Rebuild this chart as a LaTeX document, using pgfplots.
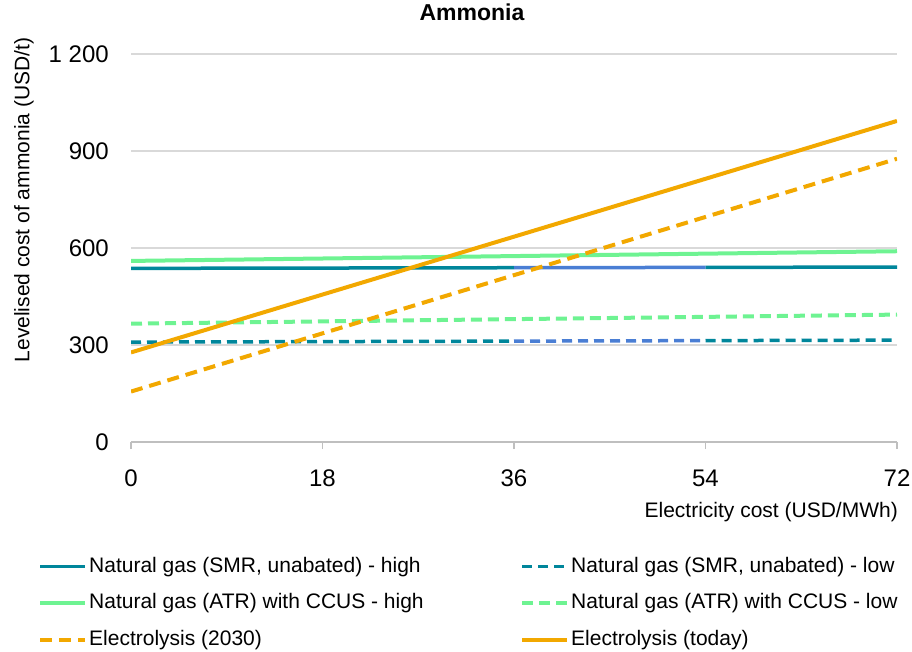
\documentclass[border=0pt]{standalone}
\usepackage{fontspec}
\setmainfont{Liberation Sans}
\usepackage{pgfplots}
\pgfplotsset{compat=1.18}
\definecolor{smrteal}{RGB}{0,134,155}
\definecolor{smrblue}{RGB}{74,126,212}
\definecolor{atrgreen}{RGB}{110,243,146}
\definecolor{elorange}{RGB}{242,168,0}
\definecolor{gridgray}{RGB}{217,217,217}
\definecolor{axisgray}{RGB}{191,191,191}
\begin{document}
\begin{tikzpicture}
\path[use as bounding box] (0,0) rectangle (912bp,652bp);
\begin{axis}[
  at={(131bp,210bp)}, anchor=south west,
  scale only axis, width=766bp, height=388bp,
  xmin=0, xmax=72, ymin=0, ymax=1200,
  xtick={0,18,36,54,72},
  ytick={0,300,600,900,1200},
  yticklabels={0,300,600,900,1 200},
  axis x line*=bottom, axis y line*=left,
  y axis line style={draw=none},
  ytick style={draw=none},
  x axis line style={draw=axisgray, line width=1.5bp, -},
  xtick style={draw=axisgray, line width=1.2bp},
  tick align=outside, major tick length=7bp,
  ymajorgrids, grid style={draw=gridgray, line width=1.5bp},
  /pgf/number format/assume math mode=true,
  tick label style={font=\fontsize{24bp}{28bp}\selectfont, inner sep=0pt},
  xticklabel style={anchor=north, yshift=-21bp},
  yticklabel style={anchor=east, xshift=-15bp},
  title={Ammonia},
  title style={font=\bfseries\fontsize{23bp}{27bp}\selectfont, at={(axis description cs:0.4452,1.0928)}, anchor=center, inner sep=0pt},
  xlabel={Electricity cost (USD/MWh)},
  xlabel style={font=\fontsize{21bp}{25bp}\selectfont, at={(axis description cs:1.0013,-0.18)}, anchor=east, inner sep=0pt},
  ylabel={Levelised cost of ammonia (USD/t)},
  ylabel style={font=\fontsize{21bp}{25bp}\selectfont, at={(axis description cs:-0.1397,0.6237)}, anchor=center, inner sep=0pt},
  legend columns=2,
  legend style={at={(axis description cs:-0.1214,-0.296)}, anchor=north west, draw=none, fill=none, inner sep=0pt,
    font=\fontsize{21bp}{25bp}\selectfont,
    nodes={inner sep=0pt, text height=15bp, text depth=4bp},
    row sep=17.5bp,
    /tikz/every odd column/.append style={column sep=2bp}},
  legend cell align=left,
  legend image code/.code={\draw[#1] (0bp,0bp) -- (45bp,0bp);},
]
\addplot[smrteal, line width=3.5bp] coordinates {(0,537) (36,539)};
\addlegendentry{\makebox[431bp][l]{Natural gas (SMR, unabated) - high}}
\addplot[forget plot, smrblue, line width=3.5bp] coordinates {(36,539) (54,540)};
\addplot[forget plot, smrteal, line width=3.5bp] coordinates {(54,540) (72,541)};
\addplot[smrteal, line width=3.5bp, dash pattern=on 10bp off 6bp] coordinates {(0,309) (36,312)};
\addlegendentry{Natural gas (SMR, unabated) - low}
\addplot[forget plot, smrblue, line width=3.5bp, dash pattern=on 10bp off 6bp] coordinates {(36,312) (54,313.5)};
\addplot[forget plot, smrteal, line width=3.5bp, dash pattern=on 10bp off 6bp] coordinates {(54,313.5) (72,315)};
\addplot[atrgreen, line width=4bp] coordinates {(0,560) (72,590)};
\addlegendentry{\makebox[431bp][l]{Natural gas (ATR) with CCUS - high}}
\addplot[atrgreen, line width=4bp, dash pattern=on 11bp off 6bp] coordinates {(0,366) (72,394)};
\addlegendentry{Natural gas (ATR) with CCUS - low}
\addplot[elorange, line width=4bp, dash pattern=on 12bp off 7bp] coordinates {(0,156) (72,876)};
\addlegendentry{\makebox[431bp][l]{Electrolysis (2030)}}
\addplot[elorange, line width=4bp] coordinates {(0,277) (72,993)};
\addlegendentry{Electrolysis (today)}
\end{axis}
\end{tikzpicture}
\end{document}
